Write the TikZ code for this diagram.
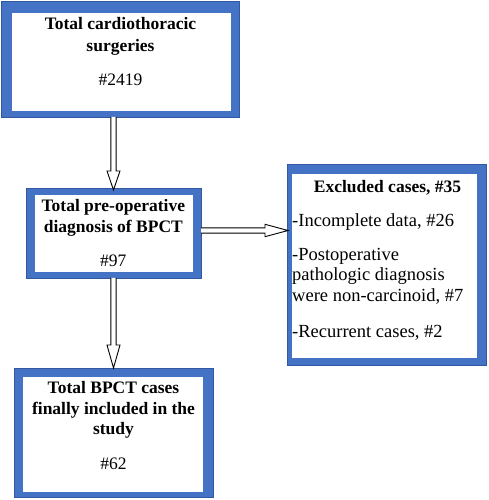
\documentclass[tikz,border=0pt]{standalone}
\usepackage{fontspec}
\setmainfont{Liberation Serif}
\usetikzlibrary{calc}
\definecolor{frameblue}{RGB}{68,114,196}
\definecolor{frameedge}{RGB}{50,88,160}
\begin{document}
\begin{tikzpicture}[x=1pt,y=1pt,
  frame/.style={fill=frameblue, draw=frameedge, line width=0.8pt, inner sep=0pt, outer sep=0pt},
  inner/.style={fill=white},
  boldtxt/.style={font=\fontsize{17.5}{21}\selectfont\bfseries, inner sep=0pt},
  plaintxt/.style={font=\fontsize{17.5}{21}\selectfont, inner sep=0pt},
  listtxt/.style={font=\fontsize{18.5}{21}\selectfont, inner sep=0pt, anchor=base west},
  blockarrow/.style={draw=black, line width=0.9pt, fill=white, line join=miter}]
\useasboundingbox (0,0) rectangle (489,500);

% boxes (outer blue frame + white interior)
\node[frame, minimum width=238pt, minimum height=116pt] (b1) at (120,441) {};
\fill[inner] ($(b1.north west)+(11,-12)$) rectangle ($(b1.south east)+(-8,6)$);

\node[frame, minimum width=175pt, minimum height=90pt] (b2) at (113.5,267) {};
\fill[inner] ($(b2.north west)+(9,-7)$) rectangle ($(b2.south east)+(-8,6)$);

\node[frame, minimum width=199pt, minimum height=201pt] (b3) at (386.5,235.5) {};
\fill[inner] ($(b3.north west)+(4.5,-10)$) rectangle ($(b3.south east)+(-9,7)$);

\node[frame, minimum width=199pt, minimum height=129pt] (b4) at (113.5,67.5) {};
\fill[inner] ($(b4.north west)+(9,-9)$) rectangle ($(b4.south east)+(-10,5)$);

% texts
\node[boldtxt, anchor=base] (t1a) at (120.5,470) {Total cardiothoracic};
\node[boldtxt, anchor=base] (t1b) at (120.5,448.3) {surgeries};
\node[plaintxt, anchor=base] (t1c) at (120.5,414) {\#2419};

\node[boldtxt, anchor=base] (t2a) at (113.3,288.3) {Total pre-operative};
\node[boldtxt, anchor=base] (t2b) at (113.3,267) {diagnosis of BPCT};
\node[plaintxt, anchor=base] (t2c) at (113.3,233.3) {\#97};

\node[boldtxt, anchor=base] (t3a) at (387.5,307.7) {Excluded cases, \#35};
\node[listtxt] (t3b) at (292,273.3) {-Incomplete data, \#26};
\node[listtxt] (t3c) at (292,239) {-Postoperative};
\node[listtxt] (t3d) at (292,219) {pathologic diagnosis};
\node[listtxt] (t3e) at (292,198.3) {were non-carcinoid, \#7};
\node[listtxt] (t3f) at (292,162.3) {-Recurrent cases, \#2};

\node[boldtxt, anchor=base] (t4a) at (113.5,106) {Total BPCT cases};
\node[boldtxt, anchor=base] (t4b) at (113.5,85) {finally included in the};
\node[boldtxt, anchor=base] (t4c) at (113.5,65) {study};
\node[plaintxt, anchor=base] (t4d) at (113.5,30) {\#62};

% block arrows
\coordinate (a1s) at (b2.north |- b1.south);
\coordinate (a1e) at ($(b2.north)+(0,-2)$);
\draw[blockarrow] ($(a1s)+(-2.6,0)$) -- ($(a1e)+(-2.6,19)$) -- ($(a1e)+(-6.5,19)$) -- (a1e)
  -- ($(a1e)+(6.5,19)$) -- ($(a1e)+(2.6,19)$) -- ($(a1s)+(2.6,0)$);

\coordinate (a2s) at ($(b2.east)+(0,2.5)$);
\coordinate (a2e) at ($(b3.west |- a2s)+(1,0)$);
\draw[blockarrow] ($(a2s)+(0,2.6)$) -- ($(a2e)+(-23,2.6)$) -- ($(a2e)+(-23,6.2)$) -- (a2e)
  -- ($(a2e)+(-23,-6.2)$) -- ($(a2e)+(-23,-2.6)$) -- ($(a2s)+(0,-2.6)$);

\coordinate (a3s) at (b2.south);
\coordinate (a3e) at (b4.north);
\draw[blockarrow] ($(a3s)+(-2.6,0)$) -- ($(a3e)+(-2.6,23)$) -- ($(a3e)+(-6.5,23)$) -- (a3e)
  -- ($(a3e)+(6.5,23)$) -- ($(a3e)+(2.6,23)$) -- ($(a3s)+(2.6,0)$);
\end{tikzpicture}
\end{document}
